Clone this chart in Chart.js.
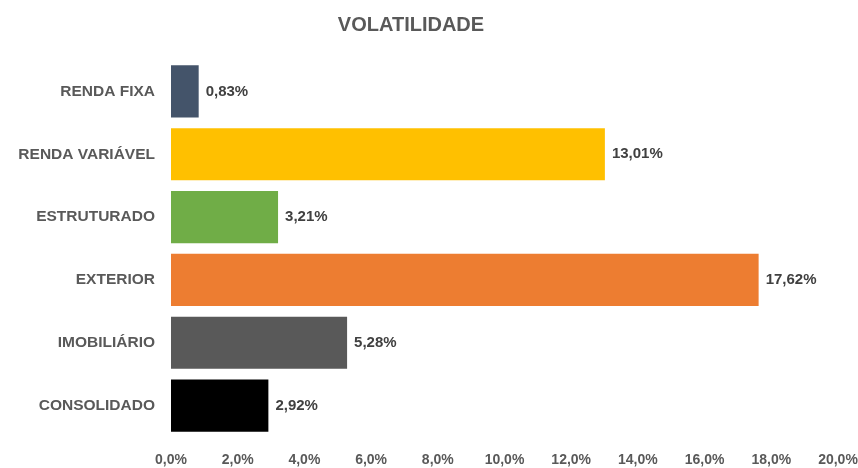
<!DOCTYPE html>
<html>
<head>
<meta charset="utf-8">
<script src="https://cdn.jsdelivr.net/npm/chart.js@4/dist/chart.umd.min.js"></script>
<style>
  html, body { margin: 0; padding: 0; background: #ffffff; }
  #wrap { width: 858px; height: 468px; position: relative; }
</style>
</head>
<body>
<div id="wrap"><canvas id="c" width="858" height="468"></canvas></div>
<script>
const titleText = 'VOLATILIDADE';
const categories = ['RENDA FIXA', 'RENDA VARIÁVEL', 'ESTRUTURADO', 'EXTERIOR', 'IMOBILIÁRIO', 'CONSOLIDADO'];
const volatility = [0.83, 13.01, 3.21, 17.62, 5.28, 2.92];
const barColors = ['#44546A', '#FFC000', '#70AD47', '#ED7D31', '#595959', '#000000'];
const axisMin = 0;
const axisMax = 20;
const axisStep = 2;

const FONT = '"Liberation Sans", Arial, sans-serif';

const fmtPct = (v, d) => v.toFixed(d).replace('.', ',') + '%';

const valueLabels = {
  id: 'valueLabels',
  afterDatasetsDraw(chart) {
    const ctx = chart.ctx;
    const meta = chart.getDatasetMeta(0);
    ctx.save();
    ctx.font = 'bold 15px ' + FONT;
    ctx.fillStyle = '#404040';
    ctx.textAlign = 'left';
    ctx.textBaseline = 'middle';
    meta.data.forEach((bar, i) => {
      ctx.fillText(fmtPct(volatility[i], 2), bar.x + 7, bar.y);
    });
    ctx.restore();
  }
};

const titleDraw = {
  id: 'titleDraw',
  afterDraw(chart) {
    const ctx = chart.ctx;
    ctx.save();
    ctx.font = 'bold 20px ' + FONT;
    ctx.fillStyle = '#595959';
    ctx.textAlign = 'center';
    ctx.textBaseline = 'middle';
    ctx.fillText(titleText, chart.width / 2 - 18, 25);
    ctx.restore();
  }
};

new Chart(document.getElementById('c'), {
  type: 'bar',
  data: {
    labels: categories,
    datasets: [{
      data: volatility,
      backgroundColor: barColors,
      borderWidth: 0,
      categoryPercentage: 1.0,
      barPercentage: 0.83
    }]
  },
  options: {
    indexAxis: 'y',
    responsive: false,
    animation: false,
    layout: { padding: { top: 60, left: 0, right: 20, bottom: 0 } },
    plugins: {
      legend: { display: false },
      tooltip: { enabled: false },
      title: { display: false }
    },
    scales: {
      x: {
        min: axisMin,
        max: axisMax,
        grid: { display: false, drawTicks: false },
        border: { display: false },
        afterFit: (scale) => {
          scale.height = 31;
          scale.paddingLeft = 0;
          scale.paddingRight = 0;
        },
        ticks: {
          stepSize: axisStep,
          padding: 15,
          color: '#595959',
          font: { family: FONT, size: 14, weight: 'bold' },
          callback: (v) => fmtPct(v, 1)
        }
      },
      y: {
        grid: { display: false, drawTicks: false },
        border: { display: false },
        afterFit: (scale) => {
          scale.width = 171;
          scale.paddingTop = 0;
          scale.paddingBottom = 0;
        },
        ticks: {
          padding: 16,
          color: '#595959',
          font: { family: FONT, size: 15.5, weight: 'bold' }
        }
      }
    }
  },
  plugins: [valueLabels, titleDraw]
});
</script>
</body>
</html>
